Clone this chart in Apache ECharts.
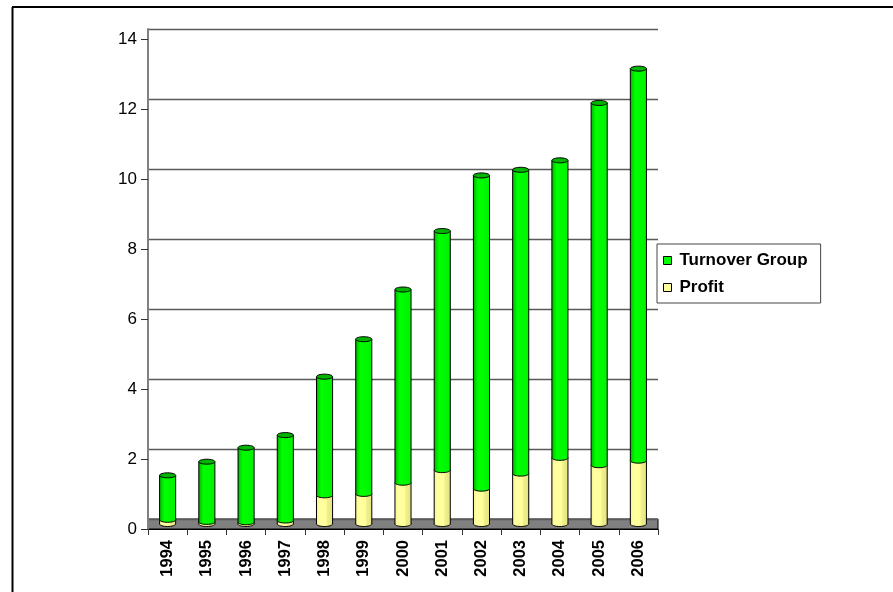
<!DOCTYPE html>
<html>
<head>
<meta charset="utf-8">
<script src="https://cdn.jsdelivr.net/npm/echarts@6/dist/echarts.min.js"></script>
<style>
html,body{margin:0;padding:0;background:#fff;}
#chart{width:893px;height:592px;}
</style>
</head>
<body>
<div id="chart"></div>
<script>
// ---- data ----
var years = ['1994','1995','1996','1997','1998','1999','2000','2001','2002','2003','2004','2005','2006'];
var profit = [0.12, 0.06, 0.05, 0.10, 0.82, 0.86, 1.18, 1.54, 1.01, 1.44, 1.89, 1.68, 1.81];
var turnoverGroup = [1.27, 1.72, 2.13, 2.44, 3.39, 4.42, 5.52, 6.83, 8.95, 8.68, 8.50, 10.35, 11.20];
var yTicks = [0, 2, 4, 6, 8, 10, 12, 14];

var FONT = "Arial, 'Liberation Sans', sans-serif";

// stacked ranges built from the arrays
var profitData = years.map(function (y, i) { return [i, 0, profit[i]]; });
var turnoverData = years.map(function (y, i) { return [i, profit[i], profit[i] + turnoverGroup[i]]; });

function cylinder(stops, topFill, drawTop) {
  return function (params, api) {
    var b = api.coord([api.value(0), api.value(1)]);
    var t = api.coord([api.value(0), api.value(2)]);
    var bw = api.size([1, 0])[0] * 0.41;
    var rx = bw / 2, ry = 2.5;
    var grad = new echarts.graphic.LinearGradient(0, 0, 1, 0, stops);
    var kids = [
      { type: 'ellipse', shape: { cx: b[0], cy: b[1], rx: rx, ry: ry }, style: { fill: grad, stroke: '#000', lineWidth: 1 } },
      { type: 'rect', shape: { x: b[0] - rx, y: t[1], width: bw, height: b[1] - t[1] }, style: { fill: grad } },
      { type: 'line', shape: { x1: b[0] - rx, y1: t[1], x2: b[0] - rx, y2: b[1] }, style: { stroke: '#000', lineWidth: 1 } },
      { type: 'line', shape: { x1: b[0] + rx, y1: t[1], x2: b[0] + rx, y2: b[1] }, style: { stroke: '#000', lineWidth: 1 } }
    ];
    if (drawTop) {
      kids.push({ type: 'ellipse', shape: { cx: t[0], cy: t[1], rx: rx, ry: ry }, style: { fill: topFill, stroke: '#000', lineWidth: 1 } });
    }
    return { type: 'group', children: kids };
  };
}

var greenStops = [
  { offset: 0, color: '#00A800' }, { offset: 0.12, color: '#00D800' },
  { offset: 0.3, color: '#00FF00' }, { offset: 1, color: '#00F200' }
];
var yellowStops = [
  { offset: 0, color: '#F4F48E' }, { offset: 0.2, color: '#FFFFA2' },
  { offset: 0.6, color: '#FFFF99' }, { offset: 0.68, color: '#EFEF8C' }, { offset: 1, color: '#E4E484' }
];

var L = 148, R = 893 - 658;
var chart = echarts.init(document.getElementById('chart'), null, { renderer: 'canvas' });
chart.setOption({
  backgroundColor: '#fff',
  animation: false,
  grid: [
    { left: L, right: R, top: 39, bottom: 63 },            // front (axes, labels)
    { left: L, right: R, top: 29, bottom: 73 },            // back wall (gridlines)
    { left: L, right: R, top: 34, bottom: 68 },            // bars (mid depth)
    { left: L, right: R, top: 519, bottom: 63, show: true, backgroundColor: '#808080', borderColor: '#000', borderWidth: 1 } // floor
  ],
  xAxis: [
    { gridIndex: 0, type: 'category', data: years, boundaryGap: true,
      axisLine: { show: true, lineStyle: { color: '#000', width: 1 } },
      axisTick: { show: true, length: 6, lineStyle: { color: '#333' } },
      axisLabel: { rotate: 90, margin: 11, color: '#000', fontFamily: FONT, fontSize: 16.5, fontWeight: 'bold', interval: 0 } },
    { gridIndex: 1, type: 'category', data: years, show: false },
    { gridIndex: 2, type: 'category', data: years, show: false },
    { gridIndex: 3, type: 'category', data: years, show: false }
  ],
  yAxis: [
    { gridIndex: 0, type: 'value', min: yTicks[0], max: yTicks[yTicks.length - 1], interval: 2,
      axisLine: { show: true, lineStyle: { color: '#808080', width: 2 } },
      axisTick: { show: true, length: 7, lineStyle: { color: '#333', width: 1 } },
      axisLabel: { margin: 11, color: '#000', fontFamily: FONT, fontSize: 17 },
      splitLine: { show: false } },
    { gridIndex: 1, type: 'value', min: yTicks[0], max: yTicks[yTicks.length - 1], interval: 2,
      axisLine: { show: true, lineStyle: { color: '#808080', width: 2 } },
      axisTick: { show: false }, axisLabel: { show: false },
      splitLine: { show: true, lineStyle: { color: '#5a5a5a', width: 1.3 } } },
    { gridIndex: 2, type: 'value', min: 0, max: 14, show: false, splitLine: { show: false } },
    { gridIndex: 3, type: 'value', min: 0, max: 1, show: false, splitLine: { show: false } }
  ],
  legend: {
    orient: 'vertical', left: 657, top: 244,
    padding: [8, 13, 7, 6],
    itemWidth: 8, itemHeight: 8, itemGap: 10,
    borderColor: '#444', borderWidth: 1, backgroundColor: '#fff',
    icon: 'rect',
    textStyle: { fontFamily: FONT, fontSize: 17, fontWeight: 'bold', color: '#000', padding: [0, 0, 0, 3] },
    data: [
      { name: 'Turnover Group', itemStyle: { color: '#00FF00', borderColor: '#000', borderWidth: 1 } },
      { name: 'Profit', itemStyle: { color: '#FFFF99', borderColor: '#000', borderWidth: 1 } }
    ]
  },
  graphic: [
    { type: 'line', shape: { x1: 12.5, y1: 7, x2: 12.5, y2: 592 }, style: { stroke: '#000', lineWidth: 2 }, z: 100 },
    { type: 'line', shape: { x1: 12, y1: 7, x2: 893, y2: 7 }, style: { stroke: '#000', lineWidth: 2 }, z: 100 }
  ],
  series: [
    { name: 'Profit', type: 'custom', xAxisIndex: 2, yAxisIndex: 2, data: profitData,
      itemStyle: { color: '#FFFF99' }, encode: { x: 0, y: [1, 2] },
      renderItem: cylinder(yellowStops, '#FFFF99', false), z: 5 },
    { name: 'Turnover Group', type: 'custom', xAxisIndex: 2, yAxisIndex: 2, data: turnoverData,
      itemStyle: { color: '#00FF00' }, encode: { x: 0, y: [1, 2] },
      renderItem: cylinder(greenStops, '#00B400', true), z: 6 }
  ]
});
</script>
</body>
</html>
